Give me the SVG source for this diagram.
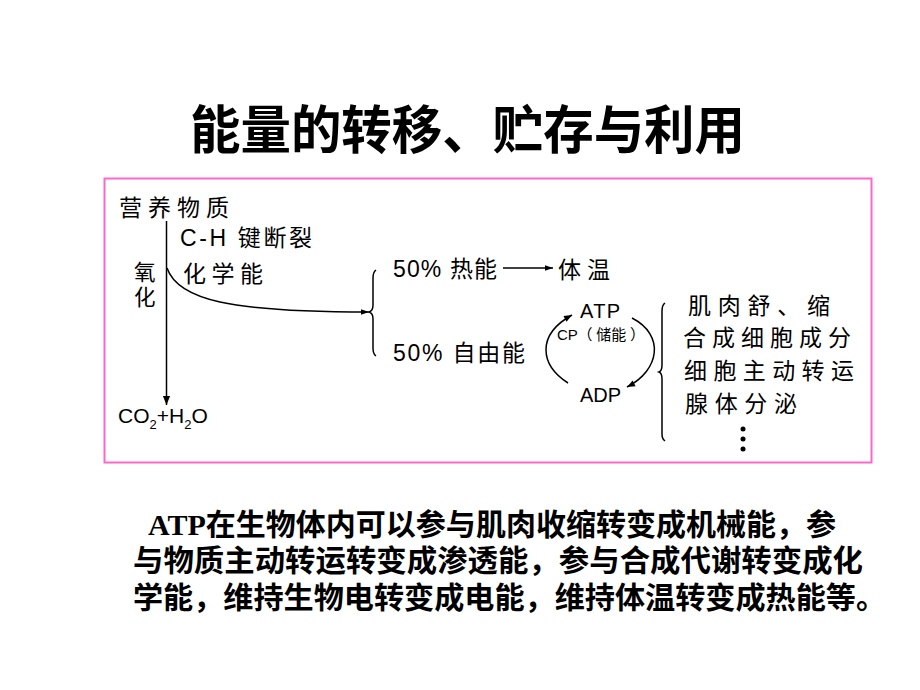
<svg xmlns="http://www.w3.org/2000/svg" width="920" height="690" viewBox="0 0 920 690">
<defs>
<marker id="arr" viewBox="0 0 10 10" refX="10" refY="5" markerWidth="10" markerHeight="8" markerUnits="userSpaceOnUse" orient="auto">
<path d="M0,1 L10,5 L0,9 Z" fill="#000"/>
</marker>
<marker id="arrL" viewBox="0 0 10 10" refX="10" refY="5" markerWidth="16" markerHeight="8" markerUnits="userSpaceOnUse" orient="auto">
<path d="M0,1.5 L10,5 L0,8.5 Z" fill="#000"/>
</marker>
<marker id="arrV" viewBox="0 0 10 10" refX="10" refY="5" markerWidth="18" markerHeight="9" markerUnits="userSpaceOnUse" orient="auto">
<path d="M0,1 L10,5 L0,9 Z" fill="#000"/>
</marker>
</defs>
<style>
.t{font-family:"Liberation Sans","Noto Sans CJK SC",sans-serif;fill:#000;font-size:23px}
.s{font-family:"Liberation Sans","Noto Sans CJK SC",sans-serif;fill:#000}
.title{font-family:"Liberation Serif","Noto Sans CJK SC",serif;font-weight:bold;font-size:52px;fill:#000}
.para{font-family:"Liberation Serif","Noto Sans CJK SC",serif;font-weight:bold;font-size:30px;fill:#000}
.ln{fill:none;stroke:#000;stroke-width:1.5}
</style>
<rect width="920" height="690" fill="#fff"/>
<g id="title"><text class="title" x="190" y="149" textLength="555" lengthAdjust="spacingAndGlyphs">能量的转移、贮存与利用</text></g>
<rect id="frame" x="104.5" y="178.5" width="767" height="284" fill="none" stroke="#ff66cc" stroke-width="2"/>
<g id="nutrient"><text class="t" x="119" y="216" textLength="110">营养物质</text></g>
<g id="ch"><text class="t" x="180" y="246" textLength="132">C-H 键断裂</text></g>
<g id="oxid"><text class="s" x="134" y="280" font-size="21.5">氧</text><text class="s" x="134" y="305" font-size="21.5">化</text></g>
<g id="chem"><text class="t" x="183" y="282" textLength="80">化学能</text></g>
<g id="co2"><text class="s" x="118" y="423" font-size="21">CO<tspan font-size="13" dy="6">2</tspan><tspan dy="-6">+H</tspan><tspan font-size="13" dy="6">2</tspan><tspan dy="-6">O</tspan></text></g>
<g id="heat"><text class="t" x="393" y="277" textLength="104">50% 热能</text></g>
<g id="body"><text class="t" x="558" y="278" textLength="52">体温</text></g>
<g id="free"><text class="t" x="393" y="361" textLength="132">50% 自由能</text></g>
<g id="atp"><text class="s" x="580" y="318" font-size="20" textLength="40">ATP</text></g>
<g id="cp"><text class="s" x="557" y="340" font-size="15" textLength="88">CP（ 储能 ）</text></g>
<g id="adp"><text class="s" x="580" y="402" font-size="20" textLength="41">ADP</text></g>
<g id="uses">
<text class="t" x="688" y="314" textLength="142">肌肉舒、缩</text>
<text class="t" x="683" y="346" textLength="168">合成细胞成分</text>
<text class="t" x="684" y="379" textLength="170">细胞主动转运</text>
<text class="t" x="685" y="412" textLength="112">腺体分泌</text>
<circle cx="743" cy="429" r="2.5"/><circle cx="743" cy="439" r="2.5"/><circle cx="743" cy="449" r="2.5"/>
</g>
<g id="connectors">
<path class="ln" d="M166.5 221 L166.5 405" marker-end="url(#arrV)"/>
<path class="ln" d="M167 268 C178 300 230 312 369 312" marker-end="url(#arrL)"/>
<path class="ln" d="M376 270 Q373 272 373 278 L373 305 Q373 311 369 312 Q373 313 373 319 L373 348 Q373 354 376 356"/>
<path class="ln" d="M503 268 L553 268" marker-end="url(#arrL)"/>
<path class="ln" d="M568 383 C540 365 536 335 572 315" marker-end="url(#arr)"/>
<path class="ln" d="M632 318 C665 335 660 370 627 387" marker-end="url(#arr)"/>
<path class="ln" d="M665 303 Q662 305 662 311 L662 365 Q662 371 659 372 Q662 373 662 379 L662 434 Q662 439 665 441"/>
</g>
<g id="paragraph">
<text class="para" x="148" y="535" textLength="688" lengthAdjust="spacingAndGlyphs">ATP在生物体内可以参与肌肉收缩转变成机械能，参</text>
<text class="para" x="133" y="571" textLength="730" lengthAdjust="spacingAndGlyphs">与物质主动转运转变成渗透能，参与合成代谢转变成化</text>
<text class="para" x="133" y="608" textLength="753" lengthAdjust="spacingAndGlyphs">学能，维持生物电转变成电能，维持体温转变成热能等。</text>
</g>
</svg>
